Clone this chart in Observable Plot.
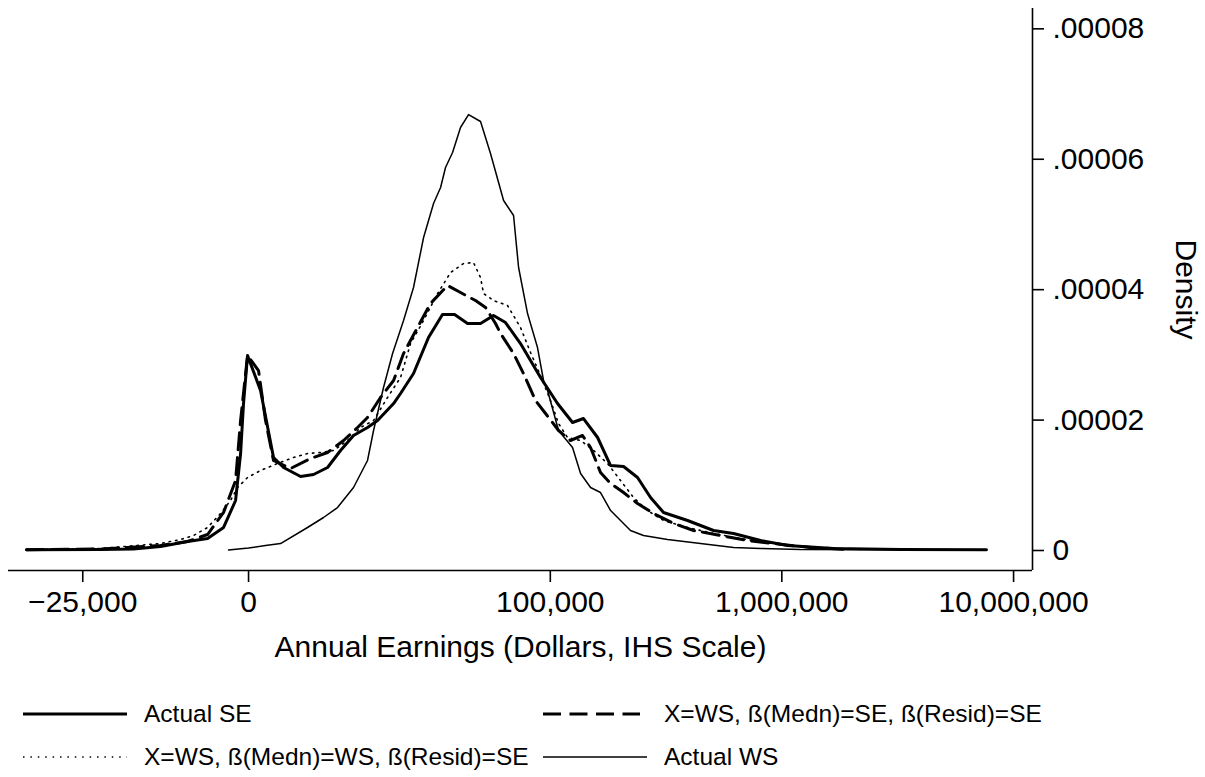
<!DOCTYPE html>
<html><head><meta charset="utf-8">
<script src="https://cdn.jsdelivr.net/npm/d3@7"></script>
<script src="https://cdn.jsdelivr.net/npm/@observablehq/plot@0.6"></script>
<style>
body{margin:0;background:#fff;font-family:"Liberation Sans",Arial,Helvetica,sans-serif;}
#wrap{position:relative;width:1205px;height:777px;background:#fff;}
.leg{position:absolute;display:flex;align-items:center;height:30px;font-size:24.5px;color:#000;white-space:nowrap;transform:translateY(-50%);}
.leg svg{display:block;}
</style></head><body><div id="wrap"><div id="chart"></div></div>
<script>
// IHS transform constant (earnings / theta)
const ihsTheta = 10000;
// x-axis ticks (dollars) and labels
const xTickValues = [-25000, 0, 100000, 1000000, 10000000];
const xTickLabels = ["\u221225,000", "0", "100,000", "1,000,000", "10,000,000"];
// y-axis ticks (density) and labels
const yTickValues = [0, 0.00002, 0.00004, 0.00006, 0.00008];
const yTickLabels = ["0", ".00002", ".00004", ".00006", ".00008"];
const xLabel = "Annual Earnings (Dollars, IHS Scale)";
const yLabel = "Density";

// Series: x in IHS units asinh(earnings/theta); density in units of 1e-5
const seriesNames = ["Actual SE", "X=WS, \u00df(Medn)=SE, \u00df(Resid)=SE", "X=WS, \u00df(Medn)=WS, \u00df(Resid)=SE", "Actual WS"];

const actualSE_x = [-2.206,-1.470,-1.143,-0.874,-0.606,-0.407,-0.248,-0.129,-0.079,-0.050,-0.010,0.119,0.248,0.348,0.517,0.646,0.785,0.914,1.043,1.182,1.282,1.441,1.510,1.639,1.788,1.927,2.047,2.176,2.305,2.434,2.553,2.702,2.901,3.070,3.219,3.328,3.468,3.597,3.726,3.865,3.994,4.123,4.362,4.620,4.819,5.087,5.355,5.812,6.478,7.332];
const actualSE_d = [0.011,0.015,0.023,0.061,0.138,0.184,0.353,0.767,1.488,2.254,2.990,2.454,1.426,1.273,1.135,1.165,1.273,1.534,1.764,1.886,1.994,2.254,2.408,2.714,3.266,3.619,3.619,3.481,3.481,3.604,3.496,3.174,2.653,2.254,1.963,2.024,1.733,1.303,1.288,1.119,0.813,0.583,0.460,0.307,0.261,0.153,0.077,0.031,0.015,0.011];

const medSE_x = [-2.206,-1.470,-0.874,-0.606,-0.407,-0.248,-0.129,-0.079,-0.010,0.099,0.169,0.248,0.417,0.616,0.785,0.944,1.083,1.182,1.311,1.441,1.540,1.679,1.808,1.977,2.106,2.255,2.355,2.454,2.504,2.633,2.732,2.851,2.951,3.080,3.199,3.318,3.398,3.497,3.597,3.726,3.865,4.024,4.223,4.421,4.690,4.958,5.216,5.584,5.981];
const medSE_d = [0.011,0.023,0.077,0.138,0.245,0.583,1.073,1.994,2.990,2.760,1.994,1.380,1.257,1.411,1.503,1.687,1.886,2.040,2.346,2.607,3.021,3.420,3.788,4.064,3.956,3.834,3.726,3.481,3.328,3.021,2.714,2.300,2.101,1.840,1.687,1.764,1.580,1.196,1.027,0.889,0.721,0.567,0.414,0.307,0.230,0.153,0.107,0.046,0.015];

const medWS_x = [-2.206,-1.470,-0.874,-0.676,-0.546,-0.407,-0.278,-0.179,-0.109,-0.010,0.119,0.288,0.447,0.586,0.715,0.845,0.984,1.113,1.242,1.381,1.510,1.610,1.739,1.878,2.007,2.136,2.235,2.305,2.335,2.434,2.573,2.702,2.802,2.901,3.000,3.080,3.169,3.299,3.428,3.567,3.696,3.825,3.964,4.123,4.362,4.620,4.888,5.216,5.584,6.081];
const medWS_d = [0.011,0.031,0.107,0.169,0.230,0.353,0.567,0.767,0.966,1.119,1.227,1.334,1.426,1.488,1.503,1.534,1.687,1.886,1.994,2.346,2.653,3.174,3.527,3.941,4.263,4.401,4.416,4.186,3.941,3.834,3.757,3.420,3.036,2.683,2.300,1.948,1.733,1.687,1.534,1.334,1.073,0.813,0.613,0.460,0.353,0.261,0.184,0.107,0.046,0.015];

const actualWS_x = [-0.199,0,0.169,0.318,0.586,0.745,0.884,1.043,1.182,1.242,1.341,1.431,1.540,1.639,1.739,1.838,1.908,1.957,2.027,2.106,2.186,2.305,2.404,2.534,2.633,2.683,2.772,2.871,2.931,2.971,3.080,3.219,3.299,3.398,3.497,3.597,3.696,3.795,3.924,4.163,4.491,4.819,5.087,5.484,7.332];
const actualWS_d = [0.008,0.038,0.077,0.107,0.353,0.506,0.659,0.966,1.380,1.840,2.500,3.021,3.527,4.033,4.800,5.321,5.567,5.873,6.103,6.487,6.686,6.579,6.088,5.367,5.137,4.340,3.634,3.113,2.607,2.454,1.840,1.580,1.181,0.966,0.889,0.613,0.460,0.307,0.230,0.169,0.107,0.046,0.031,0.015,0.008];

const toRows = (xs, ds) => xs.map((x, i) => ({x, d: ds[i] * 1e-5}));
const rowsSE = toRows(actualSE_x, actualSE_d);
const rowsMedSE = toRows(medSE_x, medSE_d);
const rowsMedWS = toRows(medWS_x, medWS_d);
const rowsWS = toRows(actualWS_x, actualWS_d);

const ihs = v => Math.asinh(v / ihsTheta);
const xTicksU = xTickValues.map(ihs);
const xFmt = new Map(xTicksU.map((u, i) => [u, xTickLabels[i]]));
const yFmt = new Map(yTickValues.map((v, i) => [v, yTickLabels[i]]));

const xDomain = [-2.385, 7.789];
const yDomain = [-0.000003067, 0.00008312];
const font = '"Liberation Sans", Arial, Helvetica, sans-serif';

const chart = Plot.plot({
  width: 1205,
  height: 680,
  marginLeft: 8,
  marginRight: 173,
  marginTop: 8,
  marginBottom: 110,
  style: {fontFamily: font, fontSize: "30px", background: "white", color: "black", overflow: "visible"},
  x: {domain: xDomain, axis: null},
  y: {domain: yDomain, axis: null},
  marks: [
    Plot.ruleY([yDomain[0]], {stroke: "black", strokeWidth: 1.6}),
    Plot.ruleX([xDomain[1]], {stroke: "black", strokeWidth: 1.6}),
    Plot.axisX(xTicksU, {anchor: "bottom", tickSize: 12, tickPadding: 8, strokeWidth: 1.6, fontSize: 30, tickFormat: d => xFmt.get(d), label: null}),
    Plot.axisY(yTickValues, {anchor: "right", tickSize: 11, tickPadding: 9, strokeWidth: 1.6, fontSize: 30, tickFormat: d => yFmt.get(d), label: null}),
    Plot.text([xLabel], {frameAnchor: "bottom", dy: 77, fontSize: 30, lineAnchor: "middle", fill: "black"}),
    Plot.text([yLabel], {frameAnchor: "right", dx: 153, rotate: 90, fontSize: 30, lineAnchor: "middle", textAnchor: "middle", fill: "black"}),
    Plot.line(rowsWS, {x: "x", y: "d", stroke: "black", strokeWidth: 1.5}),
    Plot.line(rowsMedWS, {x: "x", y: "d", stroke: "black", strokeWidth: 1.6, strokeDasharray: "1.5,5"}),
    Plot.line(rowsMedSE, {x: "x", y: "d", stroke: "black", strokeWidth: 3, strokeDasharray: "17,8"}),
    Plot.line(rowsSE, {x: "x", y: "d", stroke: "black", strokeWidth: 3})
  ]
});
document.getElementById("chart").appendChild(chart);

// Legend (two columns, two rows)
const legendItems = [
  {name: seriesNames[0], left: 23, top: 714, w: 104, sw: 3, dash: null},
  {name: seriesNames[1], left: 543, top: 714, w: 97, sw: 3, dash: "18,8.5"},
  {name: seriesNames[2], left: 23, top: 757, w: 104, sw: 1.5, dash: "1.5,5.9"},
  {name: seriesNames[3], left: 543, top: 757, w: 104, sw: 1.5, dash: null}
];
const wrap = document.getElementById("wrap");
for (const it of legendItems) {
  const sw = document.createElement("div");
  sw.className = "leg";
  sw.style.left = it.left + "px";
  sw.style.top = it.top + "px";
  sw.innerHTML = `<svg width="${it.w}" height="10"><line x1="0" x2="${it.w}" y1="5" y2="5" stroke="black" stroke-width="${it.sw}" ${it.dash ? `stroke-dasharray="${it.dash}"` : ""}/></svg>`;
  wrap.appendChild(sw);
  const tx = document.createElement("div");
  tx.className = "leg";
  tx.style.left = (it.left + 121) + "px";
  tx.style.top = it.top + "px";
  tx.textContent = it.name;
  wrap.appendChild(tx);
}
</script></body></html>
